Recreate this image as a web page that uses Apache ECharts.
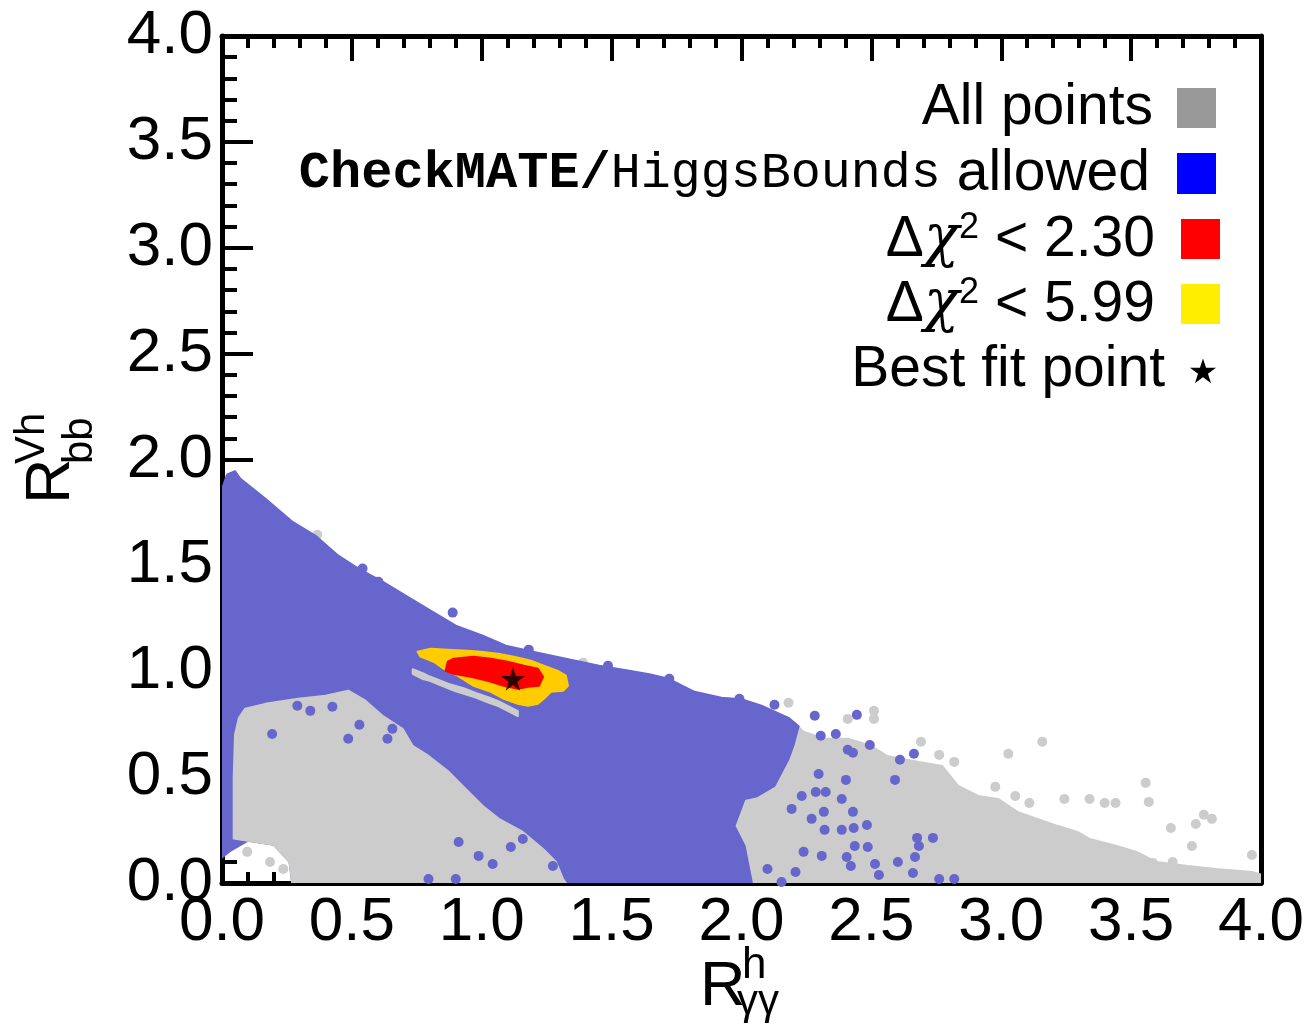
<!DOCTYPE html>
<html>
<head>
<meta charset="utf-8">
<script src="https://cdn.jsdelivr.net/npm/echarts@6.0.0/dist/echarts.min.js"></script>
<style>
html,body{margin:0;padding:0;background:#fff;}
#chart{width:1310px;height:1031px;}
</style>
</head>
<body>
<div id="chart"></div>
<script>
// ---- data (R_gamma_gamma^h , R_bb^Vh) ----
const xTickValues = [0, 0.5, 1, 1.5, 2, 2.5, 3, 3.5, 4];
const yTickValues = [0, 0.5, 1, 1.5, 2, 2.5, 3, 3.5, 4];

// envelope of the "All points" tail (right part)
const grayTail = [[1.9,0.0],[1.9,0.6],[2.1,0.8],[2.181,0.78],[2.239,0.714],[2.317,0.681],[2.409,0.681],[2.498,0.648],[2.56,0.6],[2.683,0.572],[2.772,0.553],[2.834,0.459],[2.911,0.411],[2.988,0.397],[3.062,0.336],[3.139,0.303],[3.216,0.27],[3.293,0.241],[3.34,0.208],[3.444,0.175],[3.521,0.147],[3.598,0.099],[3.718,0.08],[3.826,0.066],[3.965,0.052],[4.0,0.04],[4.0,0.0]];

// envelope of CheckMATE/HiggsBounds allowed points
const blueRegion = [[0.0,0.12],[0.0,1.86],[0.02,1.93],[0.05,1.945],[0.07,1.91],[0.166,1.816],[0.27,1.707],[0.359,1.641],[0.448,1.546],[0.525,1.485],[0.618,1.423],[0.707,1.357],[0.811,1.281],[0.9,1.215],[1.004,1.168],[1.093,1.121],[1.197,1.092],[1.324,1.059],[1.452,1.026],[1.568,1.002],[1.65,0.985],[1.718,0.965],[1.819,0.903],[1.923,0.875],[2.0,0.868],[2.077,0.837],[2.181,0.78],[2.22,0.74],[2.2,0.65],[2.181,0.586],[2.127,0.459],[2.06,0.41],[2.012,0.397],[1.973,0.27],[2.012,0.175],[2.04,0.0],[0.27,0.0],[0.26,0.1],[0.2,0.18],[0.1,0.2],[0.03,0.15]];

// visible "All points" region below the allowed band
const grayBlob = [[0.045,0.21],[0.045,0.5],[0.05,0.7],[0.065,0.78],[0.089,0.823],[0.166,0.846],[0.293,0.87],[0.398,0.884],[0.486,0.908],[0.552,0.861],[0.618,0.79],[0.695,0.728],[0.734,0.648],[0.795,0.6],[0.873,0.525],[0.938,0.444],[1.004,0.364],[1.066,0.303],[1.158,0.241],[1.236,0.161],[1.286,0.099],[1.313,0.019],[1.324,0.0],[0.27,0.0],[0.26,0.1],[0.2,0.18],[0.1,0.2]];

// thin "All points" sliver next to the best-fit region
const grayIsland = [[0.734,1.01],[0.775,0.99],[0.80,0.975],[0.873,0.94],[0.93,0.92],[0.977,0.898],[1.03,0.875],[1.066,0.858],[1.139,0.812],[1.139,0.788],[1.066,0.834],[1.02,0.855],[0.977,0.876],[0.90,0.905],[0.873,0.918],[0.80,0.955],[0.77,0.965],[0.734,0.988]];

// delta chi^2 < 5.99 region
const yellowRegion = [[0.753,1.092],[0.803,1.106],[0.869,1.102],[0.946,1.097],[0.996,1.092],[1.062,1.083],[1.124,1.069],[1.189,1.05],[1.239,1.026],[1.293,1.002],[1.324,0.979],[1.332,0.931],[1.313,0.908],[1.266,0.903],[1.239,0.87],[1.216,0.846],[1.178,0.837],[1.139,0.846],[1.085,0.87],[1.035,0.903],[0.969,0.931],[0.907,0.979],[0.853,1.012],[0.815,1.045],[0.764,1.069]];

// delta chi^2 < 2.30 region
const redRegion = [[0.869,1.045],[0.892,1.059],[0.969,1.069],[1.035,1.059],[1.1,1.045],[1.162,1.026],[1.216,1.012],[1.236,0.974],[1.22,0.931],[1.178,0.927],[1.139,0.917],[1.085,0.931],[1.023,0.955],[0.958,0.974],[0.892,0.988],[0.861,1.002]];

// isolated allowed points
const blueOutliers = [[2.282,0.79],[2.444,0.794],[2.363,0.704],[2.305,0.695],[2.494,0.652],[2.409,0.629],[2.429,0.615],[2.61,0.582],[2.664,0.61],[2.591,0.487],[2.297,0.515],[2.402,0.487],[2.232,0.411],[2.286,0.43],[2.324,0.43],[2.386,0.397],[2.429,0.336],[2.193,0.35],[2.27,0.303],[2.317,0.336],[2.32,0.251],[2.386,0.251],[2.432,0.26],[2.483,0.274],[2.436,0.175],[2.486,0.17],[2.676,0.213],[2.683,0.175],[2.737,0.213],[2.668,0.123],[2.602,0.099],[2.66,0.047],[2.761,0.019],[2.819,0.019],[2.529,0.038],[2.421,0.08],[2.405,0.123],[2.514,0.09],[2.239,0.147],[2.309,0.128],[2.1,0.066],[2.154,0.005],[2.208,0.052],
  [0.193,0.704],[0.34,0.813],[0.29,0.837],[0.425,0.832],[0.486,0.681],[0.529,0.747],[0.637,0.681],[0.656,0.728],[0.911,0.194],[0.988,0.128],[1.112,0.17],[1.042,0.09],[1.158,0.208],[1.274,0.08],[0.795,0.019],[0.9,0.019],
  [0.541,1.485],[0.602,1.423],[0.888,1.277],[1.181,1.102],[1.486,1.026],[1.722,0.965],[1.992,0.87],[2.127,0.842]];

// isolated points of the full scan
const grayOutliers = [[0.367,1.645],[1.39,1.04],[2.181,0.851],[2.51,0.813],[2.51,0.775],[2.409,0.775],[2.691,0.667],[3.158,0.667],[3.027,0.61],[2.761,0.605],[2.819,0.572],[2.977,0.454],[3.054,0.411],[3.108,0.378],[3.243,0.397],[3.34,0.397],[3.398,0.378],[3.44,0.378],[3.556,0.473],[3.568,0.383],[3.653,0.26],[3.749,0.279],[3.78,0.322],[3.811,0.303],[3.734,0.175],[3.965,0.132],[3.583,0.095],[3.66,0.099],[0.097,0.147],[0.185,0.099],[0.236,0.066],[0.417,1.035],[0.448,1.021]];

const bestFit = [[1.12,0.965]];

// ---- colours ----
const cGray = '#cccccc', cBlue = '#6666cc', cRed = '#ff0000', cYellow = '#ffcc00';

function regionSeries(name, pts, color, z) {
  return {
    type: 'custom', name: name, z: z, silent: true, clip: true,
    data: pts,
    renderItem: function (params, api) {
      if (params.dataIndex !== 0) return null;
      return {
        type: 'polygon',
        shape: { points: pts.map(function (p) { return api.coord(p); }) },
        style: { fill: color, stroke: color, lineWidth: 2, lineJoin: 'round' }
      };
    }
  };
}
function dotSeries(name, pts, color, z) {
  return { type: 'scatter', name: name, z: z, silent: true, data: pts,
    symbol: 'circle', symbolSize: 10, itemStyle: { color: color, opacity: 1 } };
}

const fmt = function (v) { return v.toFixed(1); };
const tickFont = 'Liberation Sans';
const lineC = '#000';

const chart = echarts.init(document.getElementById('chart'), null, { renderer: 'canvas' });
const option = {
  animation: false,
  backgroundColor: '#fff',
  grid: { left: 222, right: 49, top: 36, bottom: 148, containLabel: false },
  xAxis: [
    { type: 'value', min: 0, max: 4, interval: 0.5, position: 'bottom',
      axisLine: { show: true, onZero: false, lineStyle: { color: lineC, width: 5 } },
      axisTick: { show: true, inside: true, length: 22, lineStyle: { color: lineC, width: 4 } },
      minorTick: { show: true, splitNumber: 5, length: 11, lineStyle: { color: lineC, width: 4 } },
      axisLabel: { show: true, margin: 9, fontSize: 62, lineHeight: 62, fontFamily: tickFont, color: '#000', formatter: fmt,
        customValues: xTickValues },
      splitLine: { show: false }, minorSplitLine: { show: false } },
    { type: 'value', min: 0, max: 4, interval: 0.5, position: 'top',
      axisLine: { show: true, onZero: false, lineStyle: { color: lineC, width: 5 } },
      axisTick: { show: true, inside: true, length: 25, lineStyle: { color: lineC, width: 4 } },
      minorTick: { show: true, splitNumber: 5, length: 12, lineStyle: { color: lineC, width: 4 } },
      axisLabel: { show: false }, splitLine: { show: false } }
  ],
  yAxis: [
    { type: 'value', min: 0, max: 4, interval: 0.5, position: 'left',
      axisLine: { show: true, onZero: false, lineStyle: { color: lineC, width: 5 } },
      axisTick: { show: true, inside: true, length: 31, lineStyle: { color: lineC, width: 4 } },
      minorTick: { show: true, splitNumber: 5, length: 15, lineStyle: { color: lineC, width: 4 } },
      axisLabel: { show: true, margin: 9, fontSize: 62, fontFamily: tickFont, color: '#000', formatter: fmt },
      splitLine: { show: false } },
    { type: 'value', min: 0, max: 4, interval: 0.5, position: 'right',
      axisLine: { show: true, onZero: false, lineStyle: { color: lineC, width: 5 } },
      axisTick: { show: false }, minorTick: { show: false },
      axisLabel: { show: false }, splitLine: { show: false } }
  ],
  series: [
    regionSeries('All points (tail)', grayTail, cGray, 1),
    dotSeries('All points (isolated)', grayOutliers, cGray, 1),
    regionSeries('CheckMATE/HiggsBounds allowed', blueRegion, cBlue, 2),
    regionSeries('All points (blob)', grayBlob, cGray, 3),
    regionSeries('All points (sliver)', grayIsland, cGray, 3),
    dotSeries('Allowed (isolated)', blueOutliers, cBlue, 4),
    regionSeries('dchi2 < 5.99', yellowRegion, cYellow, 5),
    regionSeries('dchi2 < 2.30', redRegion, cRed, 6),
    { type: 'scatter', name: 'Best fit point', z: 7, silent: true, data: bestFit,
      symbol: 'path://M50,0 L61,35 L98,35 L68,57 L79,91 L50,70 L21,91 L32,57 L2,35 L39,35 Z',
      symbolSize: 24, itemStyle: { color: '#000' } }
  ],
  graphic: [
    // axis titles
    { type: 'text', x: 700, y: 988, z: 100, style: { text: 'R', fontSize: 63, fontFamily: tickFont, fill: '#000', align: 'left', verticalAlign: 'middle', textAlign: 'left', textVerticalAlign: 'middle' } },
    { type: 'text', x: 742, y: 966, z: 100, style: { text: 'h', fontSize: 44, fontFamily: tickFont, fill: '#000', align: 'left', verticalAlign: 'middle', textAlign: 'left', textVerticalAlign: 'middle' } },
    { type: 'text', x: 737, y: 1002, z: 100, style: { text: 'γγ', fontSize: 42, fontFamily: tickFont, fill: '#000', align: 'left', verticalAlign: 'middle', textAlign: 'left', textVerticalAlign: 'middle' } },
    { type: 'text', x: 52, y: 504, rotation: Math.PI / 2, z: 100, style: { text: 'R', fontSize: 63, fontFamily: tickFont, fill: '#000', align: 'left', verticalAlign: 'middle', textAlign: 'left', textVerticalAlign: 'middle' } },
    { type: 'text', x: 32, y: 464, rotation: Math.PI / 2, z: 100, style: { text: 'Vh', fontSize: 42, fontFamily: tickFont, fill: '#000', align: 'left', verticalAlign: 'middle', textAlign: 'left', textVerticalAlign: 'middle' } },
    { type: 'text', x: 80, y: 464, rotation: Math.PI / 2, z: 100, style: { text: 'bb', fontSize: 42, fontFamily: tickFont, fill: '#000', align: 'left', verticalAlign: 'middle', textAlign: 'left', textVerticalAlign: 'middle' } },

    // legend
    { type: 'text', x: 1153, y: 108, z: 100, style: { text: 'All points', fontSize: 57, fontFamily: tickFont, fill: '#000', align: 'right', verticalAlign: 'middle', textAlign: 'right', textVerticalAlign: 'middle' } },
    { type: 'rect', shape: { x: 1177, y: 88, width: 39, height: 40 }, z: 100, style: { fill: '#999999' } },

    { type: 'text', x: 1150, y: 174, z: 100, style: {
        text: '{mb|CheckMATE/}{m|HiggsBounds}{s| allowed}', align: 'right', verticalAlign: 'middle', textAlign: 'right', textVerticalAlign: 'middle', fill: '#000',
        rich: {
          mb: { fontFamily: 'Liberation Mono', fontWeight: 'bold', fontSize: 52, fill: '#000', color: '#000' },
          m: { fontFamily: 'Liberation Mono', fontSize: 50, fill: '#000', color: '#000' },
          s: { fontFamily: tickFont, fontSize: 57, fill: '#000', color: '#000' }
        } } },
    { type: 'rect', shape: { x: 1177, y: 153, width: 39, height: 41 }, z: 100, style: { fill: '#0000ff' } },

    { type: 'text', x: 1155, y: 240, z: 100, style: {
        text: '{d|Δ}{c|χ}{p|2}{t| < 2.30}', align: 'right', verticalAlign: 'middle', textAlign: 'right', textVerticalAlign: 'middle', fill: '#000',
        rich: {
          d: { fontFamily: tickFont, fontSize: 57, lineHeight: 60, fill: '#000', color: '#000' },
          c: { fontFamily: 'DejaVu Serif', fontStyle: 'italic', fontSize: 58, lineHeight: 60, fill: '#000', color: '#000' },
          p: { fontFamily: tickFont, fontSize: 36, lineHeight: 30, verticalAlign: 'top', fill: '#000', color: '#000' },
          t: { fontFamily: tickFont, fontSize: 57, lineHeight: 60, fill: '#000', color: '#000' }
        } } },
    { type: 'rect', shape: { x: 1181, y: 219, width: 39, height: 40 }, z: 100, style: { fill: '#ff0000' } },

    { type: 'text', x: 1155, y: 305, z: 100, style: {
        text: '{d|Δ}{c|χ}{p|2}{t| < 5.99}', align: 'right', verticalAlign: 'middle', textAlign: 'right', textVerticalAlign: 'middle', fill: '#000',
        rich: {
          d: { fontFamily: tickFont, fontSize: 57, lineHeight: 60, fill: '#000', color: '#000' },
          c: { fontFamily: 'DejaVu Serif', fontStyle: 'italic', fontSize: 58, lineHeight: 60, fill: '#000', color: '#000' },
          p: { fontFamily: tickFont, fontSize: 36, lineHeight: 30, verticalAlign: 'top', fill: '#000', color: '#000' },
          t: { fontFamily: tickFont, fontSize: 57, lineHeight: 60, fill: '#000', color: '#000' }
        } } },
    { type: 'rect', shape: { x: 1181, y: 284, width: 39, height: 40 }, z: 100, style: { fill: '#ffee00' } },

    { type: 'text', x: 1165, y: 370, z: 100, style: { text: 'Best fit point', fontSize: 57, fontFamily: tickFont, fill: '#000', align: 'right', verticalAlign: 'middle', textAlign: 'right', textVerticalAlign: 'middle' } },
    { type: 'text', x: 1203, y: 374, z: 100, style: { text: '★', fontSize: 34, fontFamily: 'DejaVu Sans', fill: '#000', align: 'center', verticalAlign: 'middle', textAlign: 'center', textVerticalAlign: 'middle' } }
  ]
};
chart.setOption(option);
</script>
</body>
</html>
